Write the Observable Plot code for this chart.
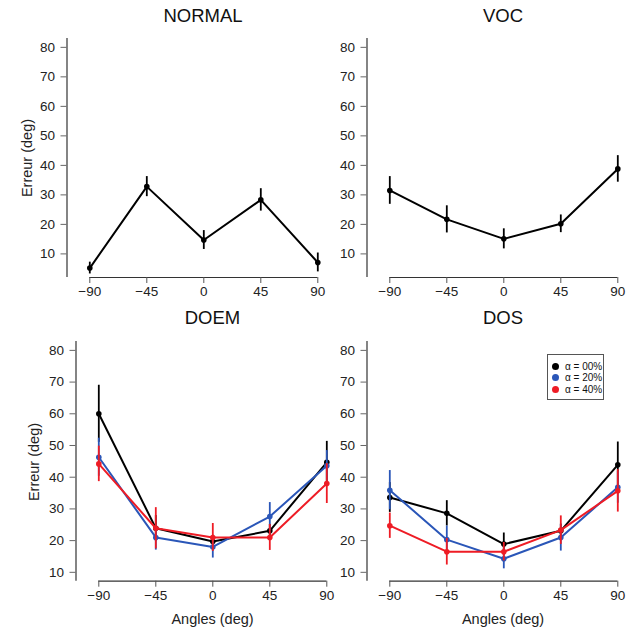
<!DOCTYPE html>
<html>
<head>
<meta charset="utf-8">
<script src="https://cdn.jsdelivr.net/npm/d3@7"></script>
<script src="https://cdn.jsdelivr.net/npm/@observablehq/plot@0.6"></script>
<style>
  html, body { margin: 0; padding: 0; background: #fff; overflow: hidden; }
  body { font-family: "Liberation Sans", Arial, sans-serif; color: #111; }
  #chart { position: relative; width: 630px; height: 632px; overflow: hidden; background: #fff; }
  .panel { position: absolute; width: 345px; }
  .panel svg { max-width: none !important; }
  .title { position: absolute; font-size: 18.5px; transform: translate(-50%, -50%); white-space: nowrap; color: #111; }
  .ylab { position: absolute; font-size: 14.5px; transform: translate(-50%, -50%) rotate(-90deg); white-space: nowrap; color: #222; }
  .xlab { position: absolute; font-size: 14.5px; transform: translate(-50%, -50%); white-space: nowrap; color: #222; }
  #legend { position: absolute; border: 1px solid #555; box-sizing: border-box; background: #fff; font-size: 10px; color: #111; }
  #legend .row { position: absolute; left: 0; display: flex; align-items: center; white-space: nowrap; }
  #legend .sw { width: 7px; height: 7px; border-radius: 50%; margin-left: 4px; margin-right: 6px; }
</style>
</head>
<body>
<div id="chart"></div>
<script>
// ---------- data ----------
const angles = [-90, -45, 0, 45, 90];
const yTicks = [10, 20, 30, 40, 50, 60, 70, 80];
const panelTitles = ["NORMAL", "VOC", "DOEM", "DOS"];
const yAxisLabel = "Erreur (deg)";
const xAxisLabel = "Angles (deg)";
const seriesLabels = ["α = 00%", "α = 20%", "α = 40%"];
const seriesColors = ["#000000", "#2a56b8", "#ee1c25"];

const normalMean = [5.2, 32.8, 14.7, 28.3, 7.1];
const normalErr  = [2.0, 3.4, 3.2, 3.8, 3.2];
const vocMean    = [31.5, 21.7, 15.1, 20.2, 38.8];
const vocErr     = [4.7, 4.6, 3.4, 3.0, 4.5];

const doem00Mean = [60.0, 23.9, 19.7, 23.1, 44.7];
const doem00Err  = [9.0, 4.0, 2.0, 2.0, 6.6];
const doem20Mean = [46.3, 21.0, 18.0, 27.6, 43.6];
const doem20Err  = [6.0, 4.0, 3.5, 4.4, 4.8];
const doem40Mean = [44.2, 23.9, 21.0, 21.0, 38.0];
const doem40Err  = [5.6, 6.5, 4.4, 4.1, 6.3];

const dos00Mean = [33.6, 28.6, 18.9, 23.1, 43.9];
const dos00Err  = [4.7, 4.0, 3.5, 2.0, 7.2];
const dos20Mean = [35.9, 20.3, 14.3, 21.0, 36.8];
const dos20Err  = [6.2, 4.3, 3.2, 4.3, 5.0];
const dos40Mean = [24.7, 16.5, 16.5, 23.3, 35.7];
const dos40Err  = [4.0, 4.2, 2.9, 4.5, 6.7];

// ---------- helpers ----------
function rows(means, errs, s) {
  return angles.map((a, i) => ({angle: a, m: means[i], e: errs[i], s}));
}
const fmt = d => d < 0 ? "\u2212" + Math.abs(d) : String(d);

function makePanel({series, yDomain, yRange, height, xRange}) {
  const W = 345;
  const marks = [
    Plot.ruleX([-108], {y1: yDomain[0], y2: yDomain[1], stroke: "#333", strokeWidth: 1.2}),
    Plot.ruleY([yDomain[0]], {x1: angles[0], x2: angles[angles.length - 1], stroke: "#333", strokeWidth: 1.2}),
    Plot.axisY(yTicks, {anchor: "left", tickSize: 6, tickPadding: 6, fontSize: 13.5, color: "#222", stroke: "#666", label: null, tickFormat: fmt}),
    Plot.axisX(angles, {anchor: "bottom", tickSize: 6, tickPadding: 3, fontSize: 13.5, color: "#222", stroke: "#555", label: null, tickFormat: fmt})
  ];
  for (const data of series) {
    const c = seriesColors[data[0].s];
    marks.push(Plot.ruleX(data, {x: "angle", y1: d => d.m - d.e, y2: d => d.m + d.e, stroke: c, strokeWidth: 1.8}));
    marks.push(Plot.line(data, {x: "angle", y: "m", stroke: c, strokeWidth: 2}));
    marks.push(Plot.dot(data, {x: "angle", y: "m", fill: c, r: 2.8, stroke: "none"}));
  }
  return Plot.plot({
    width: W,
    height,
    marginLeft: xRange[0],
    marginRight: 0,
    marginTop: yRange[1],
    marginBottom: height - yRange[0],
    style: {background: "transparent", overflow: "visible", maxWidth: "none", fontFamily: "'Liberation Sans', Arial, sans-serif"},
    x: {domain: [-108, 108], range: xRange, axis: null},
    y: {domain: yDomain, range: yRange, axis: null},
    marks
  });
}

const chart = document.getElementById("chart");
function place(el, left, top) {
  const d = document.createElement("div");
  d.className = "panel";
  d.style.left = left + "px";
  d.style.top = top + "px";
  d.appendChild(el);
  chart.appendChild(d);
}
function addText(cls, txt, x, y) {
  const d = document.createElement("div");
  d.className = cls;
  d.textContent = txt;
  d.style.left = x + "px";
  d.style.top = y + "px";
  chart.appendChild(d);
}

const topCfg = {yDomain: [2, 83], yRange: [277, 38], height: 310, xRange: [66.5, 340.1]};
const botCfg = {yDomain: [7.2, 82.8], yRange: [270.7, 31], height: 322, xRange: [66.5, 340.1]};

place(makePanel({...topCfg, series: [rows(normalMean, normalErr, 0)]}), 0, 0);
place(makePanel({...topCfg, series: [rows(vocMean, vocErr, 0)]}), 300, 0);
place(makePanel({...botCfg, series: [rows(doem00Mean, doem00Err, 0), rows(doem20Mean, doem20Err, 1), rows(doem40Mean, doem40Err, 2)]}), 9.2, 310);
place(makePanel({...botCfg, series: [rows(dos00Mean, dos00Err, 0), rows(dos20Mean, dos20Err, 1), rows(dos40Mean, dos40Err, 2)]}), 299.5, 310);

addText("title", panelTitles[0], 203, 16);
addText("title", panelTitles[1], 503, 16);
addText("title", panelTitles[2], 212.5, 318);
addText("title", panelTitles[3], 503, 318);
addText("ylab", yAxisLabel, 27, 158);
addText("ylab", yAxisLabel, 33.5, 462);
addText("xlab", xAxisLabel, 212.5, 619);
addText("xlab", xAxisLabel, 503, 619);

// legend
const lg = document.createElement("div");
lg.id = "legend";
lg.style.left = "547px"; lg.style.top = "354px"; lg.style.width = "57px"; lg.style.height = "46px";
seriesLabels.forEach((lab, i) => {
  const r = document.createElement("div");
  r.className = "row";
  r.style.top = (5 + i * 11.7) + "px";
  r.style.height = "12px";
  const sw = document.createElement("span");
  sw.className = "sw";
  sw.style.background = seriesColors[i];
  const t = document.createElement("span");
  t.textContent = lab;
  r.appendChild(sw); r.appendChild(t);
  lg.appendChild(r);
});
chart.appendChild(lg);
</script>
</body>
</html>
